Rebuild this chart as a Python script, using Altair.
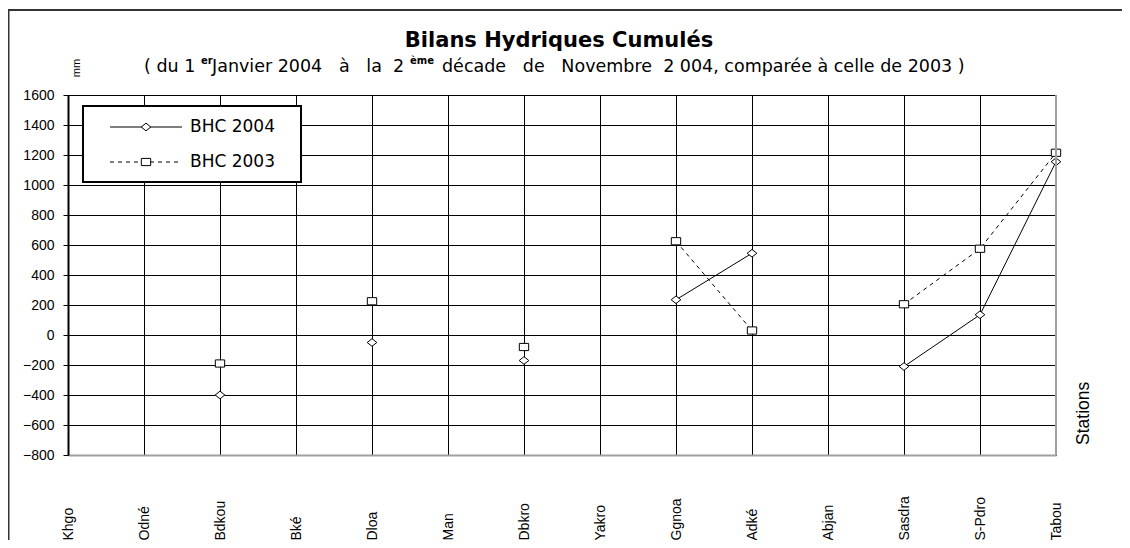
import altair as alt
import pandas as pd

stations = ["Khgo", "Odné", "Bdkou", "Bké", "Dloa", "Man", "Dbkro", "Yakro",
            "Ggnoa", "Adké", "Abjan", "Sasdra", "S-Pdro", "Tabou"]
bhc_2004 = [None, None, -400, None, -50, None, -170, None, 235, 545, None, -210, 135, 1155]
bhc_2003 = [None, None, -190, None, 225, None, -80, None, 625, 30, None, 205, 575, 1215]
y_ticks = list(range(-800, 1601, 200))

title_text = "Bilans Hydriques Cumulés"
NB = "\u00a0"
sub_parts = ["( du 1",
             f"Janvier 2004{NB*2} à{NB*2} la{NB} 2",
             f"décade{NB*2} de{NB*2} Novembre{NB} 2 004, comparée à celle de 2003 )"]
sub_sups = ["er", "ème"]
legend_names = ["BHC 2004", "BHC 2003"]

# layout: x of each subtitle piece, relative to plot origin
sub_part_x = [76, 144, 374]
sub_sup_x = [133, 342]


def long_form(name, values):
    rows = []
    run = 0
    for s, v in zip(stations, values):
        if v is None:
            run += 1
            continue
        rows.append({"station": s, "serie": name, "value": v, "run": run})
    return pd.DataFrame(rows)


d2004 = long_form("BHC 2004", bhc_2004)
d2003 = long_form("BHC 2003", bhc_2003)

W, H = 988, 360
DIAMOND = "M-1.26,0L0,-1L1.26,0L0,1Z"
SQUARE = "M-1.3,-1H1.3V1H-1.3Z"

x_enc = alt.X(
    "station:N",
    sort=stations,
    scale=alt.Scale(type="point", domain=stations, padding=0),
    axis=alt.Axis(
        title=None, grid=True, gridColor="black", gridWidth=1, ticks=False,
        domainColor="#a0a0a0", domainWidth=2, labelAngle=270, labelAlign="left",
        labelBaseline="middle", labelPadding=85, labelFont="Liberation Sans",
        labelFontSize=14, labelColor="black", labelOverlap=False,
    ),
)
y_enc = alt.Y(
    "value:Q",
    scale=alt.Scale(domain=[-800, 1600], nice=False, zero=False),
    axis=alt.Axis(
        title=None, values=y_ticks, grid=True, gridColor="black", gridWidth=1,
        domainColor="black", domainWidth=2, tickColor="black", tickSize=5,
        tickWidth=1, labelFont="Liberation Sans", labelFontSize=14,
        labelColor="black", labelPadding=9, format="d",
    ),
)

line04 = alt.Chart(d2004).mark_line(color="black", strokeWidth=1).encode(
    x=x_enc, y=y_enc, detail="run:N")
line03 = alt.Chart(d2003).mark_line(color="black", strokeWidth=1, strokeDash=[4, 4]).encode(
    x=x_enc, y=y_enc, detail="run:N")
pts04 = alt.Chart(d2004).mark_point(shape=DIAMOND, size=59, filled=True, fill="white",
                                     stroke="black", strokeWidth=1, opacity=1).encode(x=x_enc, y=y_enc)
pts03 = alt.Chart(d2003).mark_point(shape=SQUARE, size=52, filled=True, fill="white",
                                     stroke="black", strokeWidth=1, opacity=1).encode(x=x_enc, y=y_enc)

one = pd.DataFrame({"k": [0]})

border_right = alt.Chart(one).mark_rule(color="#a0a0a0", strokeWidth=2).encode(
    x=alt.value(W), y=alt.value(0), y2=alt.value(H))

frame = alt.Chart(one).mark_rect(fill="white", fillOpacity=0, stroke="#333333", strokeWidth=2).encode(
    x=alt.value(-59.5), y=alt.value(-85), x2=alt.value(1200), y2=alt.value(700))


def txt(t, x, y, size, font="DejaVu Sans", weight="normal", align="left",
        baseline="alphabetic", angle=0):
    return alt.Chart(pd.DataFrame({"t": [t]})).mark_text(
        font=font, fontSize=size, fontWeight=weight, align=align,
        baseline=baseline, angle=angle, color="black").encode(
        text="t:N", x=alt.value(x), y=alt.value(y))


title = txt(title_text, 491, -48, 21, weight="bold", align="center")
sub_layers = [txt(w, x, -23, 17.5) for w, x in zip(sub_parts, sub_part_x)]
sup_layers = [txt(w, x, -31, 10, weight="bold") for w, x in zip(sub_sups, sub_sup_x)]
mm = txt("mm", 8.5, -27, 11, font="Liberation Sans", align="center", baseline="middle", angle=270)
stations_lbl = txt("Stations", 1015.5, 350, 17.5, font="Liberation Sans", baseline="middle", angle=270)

# legend
leg_box = alt.Chart(one).mark_rect(fill="white", stroke="black", strokeWidth=2).encode(
    x=alt.value(15), y=alt.value(11), x2=alt.value(233), y2=alt.value(87))
leg_l1 = alt.Chart(one).mark_rule(color="black", strokeWidth=1).encode(
    x=alt.value(42), x2=alt.value(114), y=alt.value(32))
leg_l2 = alt.Chart(one).mark_rule(color="black", strokeWidth=1, strokeDash=[4, 4]).encode(
    x=alt.value(42), x2=alt.value(114), y=alt.value(67))
leg_p1 = alt.Chart(one).mark_point(shape=DIAMOND, size=59, filled=True, fill="white",
                                    stroke="black", strokeWidth=1, opacity=1).encode(
    x=alt.value(78), y=alt.value(32))
leg_p2 = alt.Chart(one).mark_point(shape=SQUARE, size=52, filled=True, fill="white",
                                    stroke="black", strokeWidth=1, opacity=1).encode(
    x=alt.value(78), y=alt.value(67))
leg_t1 = txt(legend_names[0], 122, 32, 17, baseline="middle")
leg_t2 = txt(legend_names[1], 122, 67, 17, baseline="middle")

chart = alt.layer(
    line03, line04, pts03, pts04, border_right,
    leg_box, leg_l1, leg_l2, leg_p1, leg_p2, leg_t1, leg_t2,
    title, *sub_layers, *sup_layers, mm, stations_lbl, frame,
).properties(
    width=W, height=H,
    autosize=alt.AutoSizeParams(type="none"),
    padding={"left": 60, "top": 87, "right": 66, "bottom": 85},
    background="white",
).configure_view(stroke=None)

chart.save("out.html", embed_options={"renderer": "svg", "actions": False})
